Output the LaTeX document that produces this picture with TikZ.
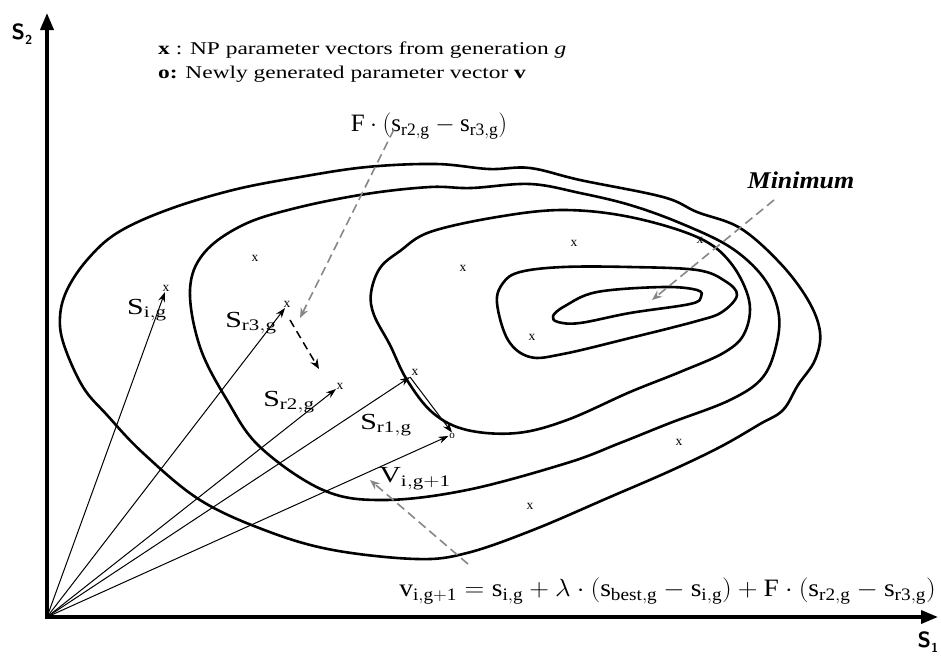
\documentclass[tikz,border=0pt]{standalone}
\usepackage{fontspec}
\setmainfont{Liberation Serif}
\usepackage{graphicx}
\usetikzlibrary{arrows.meta}
\definecolor{dgray}{RGB}{135,135,135}
\begin{document}
\begin{tikzpicture}[x=1pt,y=-1pt,
  contour/.style={line width=2.6pt, line join=round},
  axisline/.style={line width=3.6pt, line join=miter, {Triangle[length=17pt,width=13pt]}-{Triangle[length=17pt,width=13pt]}},
  vec/.style={line width=1pt, -{Stealth[length=10pt,width=7pt]}},
  gdash/.style={draw=dgray, line width=1.6pt, dash pattern=on 9pt off 5pt, -{Stealth[length=10pt,width=8pt]}},
  bdash/.style={draw=black, line width=1.5pt, dash pattern=on 8pt off 5pt, -{Stealth[length=10pt,width=8pt]}},
  mk/.style={inner sep=0pt, font=\fontsize{13.5}{13.5}\selectfont},
  vlabel/.style={inner sep=0pt, font=\fontsize{23}{25}\selectfont},
  legend/.style={inner sep=0pt, anchor=west, font=\fontsize{18}{20}\selectfont},
  formula/.style={inner sep=0pt, font=\fontsize{25}{30}\selectfont}
]
\useasboundingbox (0,0) rectangle (941,657);

% contours
\draw[contour] plot[smooth cycle, tension=0.6] coordinates {
 (60,317) (67,290) (87,260) (117,233) (167,210) (233,190) (300,177) (367,167)
 (436,164) (489,169) (530,168) (580,180) (663,197) (697,212) (740,228) (780,263)
 (808,300) (820,332) (815,360) (798,385) (783,410) (760,424) (720,447) (670,471)
 (610,497) (533,530) (467,553) (417,559) (333,550) (267,531) (200,500) (143,453)
 (107,415) (83,387) (64,345)};
\draw[contour] plot[smooth cycle, tension=0.6] coordinates {
 (190,290) (204,253) (243,225) (296,208) (366,194) (430,187) (471,188) (530,184)
 (580,193) (630,205) (680,223) (730,247) (763,277) (778,310) (777,342) (763,377)
 (730,400) (670,423) (620,443) (567,463) (467,490) (383,500) (323,490) (260,447)
 (227,400) (200,347)};
\draw[contour] plot[smooth cycle, tension=0.6] coordinates {
 (371,293) (380,268) (400,251) (430,232) (497,217) (563,210) (630,217) (697,237)
 (730,262) (749,300) (745,332) (725,352) (680,372) (630,392) (567,420) (517,433)
 (467,430) (433,413) (407,380) (390,345) (374,315)};
\draw[contour] plot[smooth cycle, tension=0.6] coordinates {
 (497,303) (503,283) (520,272) (563,267) (630,267) (697,270) (725,281) (737,295)
 (722,312) (697,321) (630,338) (563,354) (530,357) (508,340)};
\draw[contour] plot[smooth cycle, tension=0.6] coordinates {
 (553,316) (565,306) (597,292) (663,287) (697,290) (701,297) (690,304) (630,313)
 (580,323) (558,322)};

% axes
\coordinate (O) at (47,617);
\coordinate (ytip) at (47,13);
\coordinate (xtip) at (938,617);
\draw[axisline] (ytip) -- (O) -- (xtip);
\node[inner sep=0pt, font=\fontsize{22}{24}\selectfont\sffamily\bfseries] (s2) at (22,34) {S\raisebox{-0.45ex}{\fontsize{13}{13}\selectfont 2}};
\node[inner sep=0pt, font=\fontsize{22}{24}\selectfont\sffamily\bfseries] (s1) at (928,642) {S\raisebox{-0.45ex}{\fontsize{13}{13}\selectfont 1}};

% legend
\node[legend] (leg1) at (158,50) {\scalebox{1.3}[1]{\textbf{x} : NP parameter vectors from generation \textit{g}}};
\node[legend] (leg2) at (158,74) {\scalebox{1.3}[1]{\textbf{o:} Newly generated parameter vector \textbf{v}}};

% population markers
\node[mk] (m1) at (255,258) {x};
\node[mk] (m2) at (463,268) {x};
\node[mk] (m3) at (574,243) {x};
\node[mk] (m4) at (532,337) {x};
\node[mk] (m5) at (679,442) {x};
\node[mk] (m6) at (530,506) {x};
\node[mk] (m7) at (700,240) {x};

% vector tips
\coordinate (si) at (165,292);
\coordinate (sr3) at (285,308);
\coordinate (sr2) at (336,389);
\coordinate (sr1) at (410,377);
\node[mk] (msi) at (166,288) {x};
\node[mk] (msr3) at (287,304) {x};
\node[mk] (msr2) at (340,386) {x};
\node[mk] (msr1) at (415,372) {x};
\node[inner sep=0.6pt, font=\fontsize{11}{11}\selectfont] (onew) at (452,436) {o};

\draw[vec] (O) -- (si);
\draw[vec] (O) -- (sr3);
\draw[vec] (O) -- (sr2);
\draw[vec] (O) -- (sr1);
\draw[vec] (O) -- (onew.west);
\draw[vec] (sr1) -- (onew.north);

% vector labels
\node[vlabel] (lsi) at (147,310) {\scalebox{1.3}[1]{$\mathrm{S}_{\mathrm{i,g}}$}};
\node[vlabel] (lsr3) at (251,323) {\scalebox{1.3}[1]{$\mathrm{S}_{\mathrm{r3,g}}$}};
\node[vlabel] (lsr2) at (289,402) {\scalebox{1.3}[1]{$\mathrm{S}_{\mathrm{r2,g}}$}};
\node[vlabel] (lsr1) at (386,425) {\scalebox{1.3}[1]{$\mathrm{S}_{\mathrm{r1,g}}$}};
\node[vlabel] (lv) at (415,479) {\scalebox{1.3}[1]{$\mathrm{V}_{\mathrm{i,g+1}}$}};

% difference vector
\coordinate (dstart) at (290,320);
\coordinate (dend) at (319,369);
\draw[bdash] (dstart) -- (dend);

% annotation texts
\node[formula] (flab) at (429,126) {$\mathrm{F}\cdot(\mathrm{s}_{\mathrm{r2,g}}-\mathrm{s}_{\mathrm{r3,g}})$};
\node[inner sep=0pt, font=\fontsize{24}{26}\selectfont\bfseries\itshape] (minlab) at (801,180) {\scalebox{1.08}[1]{Minimum}};
\node[formula, anchor=east] (eq) at (936,591) {\scalebox{1.1}[1]{$\mathrm{v}_{\mathrm{i,g+1}}=\mathrm{s}_{\mathrm{i,g}}+\lambda\cdot(\mathrm{s}_{\mathrm{best,g}}-\mathrm{s}_{\mathrm{i,g}})+\mathrm{F}\cdot(\mathrm{s}_{\mathrm{r2,g}}-\mathrm{s}_{\mathrm{r3,g}})$}};

% grey dashed pointers
\coordinate (fend) at (300,318);
\coordinate (minend) at (652,300);
\coordinate (minstart) at (774,200);
\coordinate (vstart) at (468,564);
\coordinate (vend) at (370,480);
\draw[gdash] ([xshift=-35pt,yshift=10pt]flab.south) -- (fend);
\draw[gdash] (minstart) -- (minend);
\draw[gdash] (vstart) -- (vend);
\end{tikzpicture}
\end{document}
